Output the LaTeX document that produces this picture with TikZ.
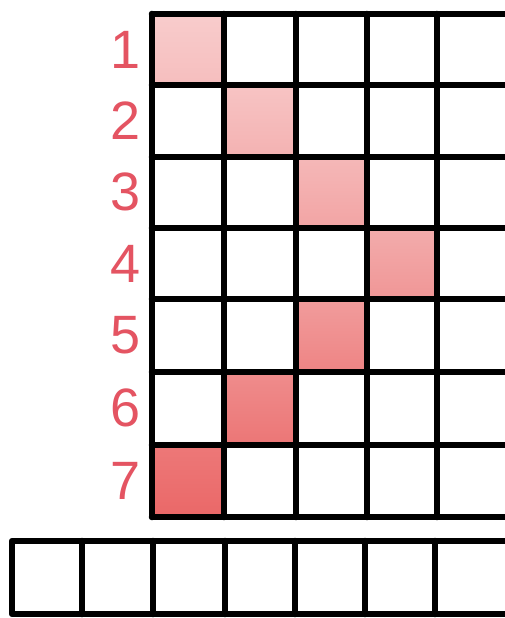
\documentclass[tikz,border=0pt]{standalone}
\usepackage{fontspec}
\setmainfont{Liberation Sans}
\definecolor{lab}{RGB}{228,84,98}
\definecolor{c1}{RGB}{248,204,204}
\definecolor{c1b}{RGB}{246,190,190}
\definecolor{c2}{RGB}{247,196,196}
\definecolor{c2b}{RGB}{244,178,178}
\definecolor{c3}{RGB}{245,184,184}
\definecolor{c3b}{RGB}{242,164,164}
\definecolor{c4}{RGB}{243,172,172}
\definecolor{c4b}{RGB}{240,150,150}
\definecolor{c5}{RGB}{241,156,156}
\definecolor{c5b}{RGB}{238,132,132}
\definecolor{c6}{RGB}{239,140,140}
\definecolor{c6b}{RGB}{236,118,118}
\definecolor{c7}{RGB}{237,120,120}
\definecolor{c7b}{RGB}{234,104,104}
\tikzset{
  gridline/.style={line width=6.5pt, line cap=round, line join=round, black},
  rowlab/.style={text=lab, font=\fontsize{54}{54}\selectfont, anchor=east, inner sep=0pt}
}
\begin{document}
\begin{tikzpicture}[x=1pt,y=-1pt]
\useasboundingbox (0,0) rectangle (505,618);
\fill[white] (0,0) rectangle (505,618);
\begin{scope}
\clip (0,0) rectangle (505,618);
% shaded cells
\shade[top color=c1, bottom color=c1b] (152,14) rectangle (224,85);
\shade[top color=c2, bottom color=c2b] (224,85) rectangle (296,157);
\shade[top color=c3, bottom color=c3b] (296,157) rectangle (367,228);
\shade[top color=c4, bottom color=c4b] (367,228) rectangle (437,299);
\shade[top color=c5, bottom color=c5b] (296,299) rectangle (367,372);
\shade[top color=c6, bottom color=c6b] (224,372) rectangle (296,445);
\shade[top color=c7, bottom color=c7b] (152,445) rectangle (224,517);
% main grid
\foreach \y in {14,85,157,228,299,372,445,517} \draw[gridline] (152,\y) -- (512,\y);
\foreach \x in {152,224,296,367,437} \draw[gridline] (\x,14) -- (\x,517);
% bottom row
\draw[gridline] (512,541) -- (12,541) -- (12,614) -- (512,614);
\foreach \x in {82,153,225,295,365,435} \draw[gridline] (\x,541) -- (\x,614);
\end{scope}
% row labels
\node[rowlab] (l1) at (141,50) {1};
\node[rowlab] (l2) at (141,121) {2};
\node[rowlab] (l3) at (141,192) {3};
\node[rowlab] (l4) at (141,264) {4};
\node[rowlab] (l5) at (141,335) {5};
\node[rowlab] (l6) at (141,408) {6};
\node[rowlab] (l7) at (141,481) {7};
\end{tikzpicture}
\end{document}
